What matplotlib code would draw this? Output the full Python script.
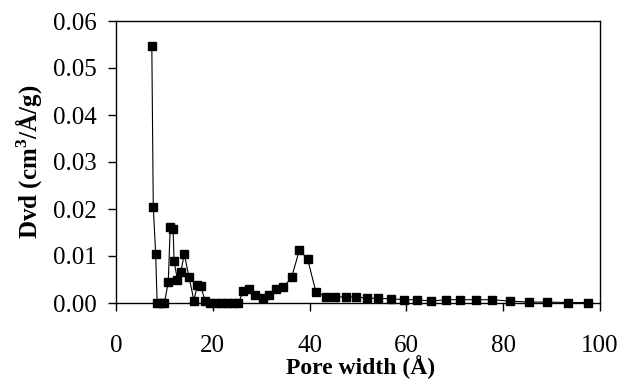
import matplotlib
matplotlib.use("Agg")
import matplotlib.pyplot as plt
from matplotlib.ticker import FormatStrFormatter, MultipleLocator

pore_width = [7.4, 7.7, 8.2, 8.5, 9.2, 10.0, 10.8, 11.2, 11.8, 12.0, 12.7, 13.4, 14.1,
              15.1, 16.1, 16.8, 17.5, 18.4, 19.4, 20.6, 21.8, 23.0, 24.2, 25.3, 26.3,
              27.5, 28.7, 30.3, 31.7, 33.1, 34.6, 36.3, 37.9, 39.6, 41.3, 43.4, 45.3,
              47.5, 49.6, 51.9, 54.2, 56.9, 59.6, 62.1, 65.1, 68.2, 71.1, 74.4, 77.6,
              81.4, 85.4, 89.1, 93.3, 97.6]
dvd = [0.0547, 0.0205, 0.0104, 0.0, 0.0, 0.0, 0.0045, 0.0161, 0.0157, 0.0089, 0.0049,
       0.0066, 0.0104, 0.0055, 0.0005, 0.0038, 0.0036, 0.0005, 0.0, 0.0, 0.0, 0.0, 0.0,
       0.0, 0.0026, 0.0029, 0.0017, 0.0010, 0.0018, 0.0029, 0.0033, 0.0055, 0.0113,
       0.0093, 0.0024, 0.0013, 0.0013, 0.0013, 0.0013, 0.0010, 0.0010, 0.0009, 0.0007,
       0.0007, 0.0004, 0.0007, 0.0007, 0.0007, 0.0007, 0.0004, 0.0002, 0.0002, 0.0001,
       0.0001]

plt.rcParams['font.family'] = ['Liberation Serif', 'DejaVu Serif']
plt.rcParams['mathtext.fontset'] = 'custom'
plt.rcParams['mathtext.rm'] = 'Liberation Serif'
plt.rcParams['mathtext.bf'] = 'Liberation Serif:bold'

fig = plt.figure(figsize=(6.22, 3.80), dpi=100)
ax = fig.add_axes([116/622, 77/380, 484/622, 282/380])

ax.plot(pore_width, dvd, color='black', linewidth=0.8, marker='s',
        markersize=6, markerfacecolor='black', markeredgecolor='black', clip_on=False)

ax.set_xlim(0, 100)
ax.set_ylim(0, 0.06)
ax.xaxis.set_major_locator(MultipleLocator(20))
ax.yaxis.set_major_locator(MultipleLocator(0.01))
ax.yaxis.set_major_formatter(FormatStrFormatter('%.2f'))

for s in ax.spines.values():
    s.set_linewidth(1.0)
    s.set_color('black')

ax.tick_params(axis='both', direction='out', length=6, width=1.0, labelsize=18, colors='black')
ax.tick_params(axis='y', pad=8)
ax.tick_params(axis='x', pad=17)

ax.set_xlabel('Pore width (Å)', fontsize=17, fontweight='bold')
ax.xaxis.label.set_va('baseline')
ax.xaxis.set_label_coords(0.505, -0.252)
ax.set_ylabel(r'Dvd (cm$^{\mathbf{3}}$/Å/g)', fontsize=18, fontweight='bold', labelpad=6)

fig.savefig('out.png', dpi=100)
